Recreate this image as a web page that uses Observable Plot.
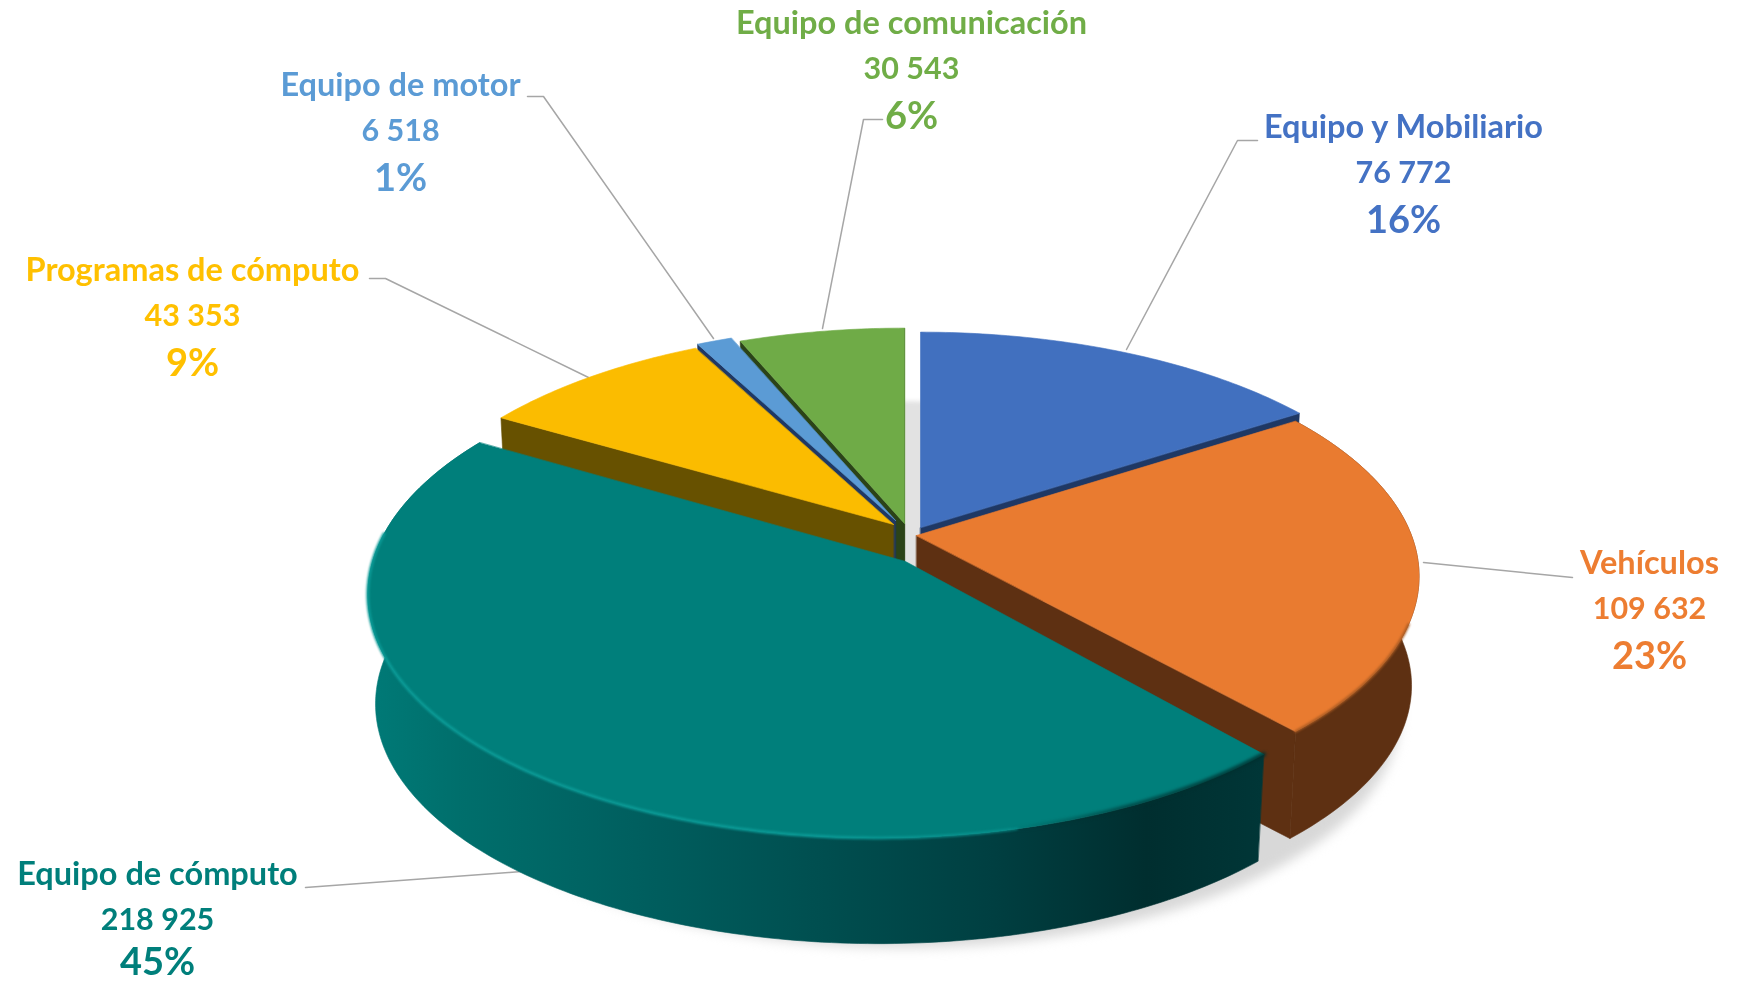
<!DOCTYPE html>
<html><head><meta charset="utf-8">
<style>html,body{margin:0;padding:0;background:#fff}svg{display:block}</style>
<script src="https://cdn.jsdelivr.net/npm/d3@7"></script>
<script src="https://cdn.jsdelivr.net/npm/@observablehq/plot@0.6"></script>
</head><body><div id="chart"></div>
<script>
const categories = ["Equipo y Mobiliario","Vehículos","Equipo de cómputo","Programas de cómputo","Equipo de motor","Equipo de comunicación"];
const values = [76772,109632,218925,43353,6518,30543];
const topColors = ["#4170BF","#E97B30","#007F7B","#FBBC00","#5B9BD5","#6FAB47"];
const cutColors = ["#1F3864","#5E3012","#003637","#675100","#1F3864","#2B4318"];
const labelColors = ["#4472C4","#ED7D31","#007F7B","#FFC000","#5B9BD5","#70AD47"];

// Geometry of the perspective projection
const R = 495, tilt = 0.463, persp = 0.173, depth = 110, shrink = 0.985;
const rimBase = [[920,527],[916,535],[878,552],[893,524],[895,520],[904,523]];
const apexBase = [[920,527],[916,535],[905,561],[893,524],[895,520],[904,523]];
const rimScale = [[1,1],[1,1],[1.016,1.03],[1,1],[1,1],[1,1]];
const labelPos = [[1403,127],[1649,563],[157,874],[192,270],[400,85],[911,23]];
const leaders = [
  [[1257,140],[1237,140],[1126,349]],
  [[1572,577],[1423,562]],
  [[305,887],[521,871]],
  [[369,278],[385,278],[588,377]],
  [[527,96],[543,96],[713,338]],
  [[882,119],[863,119],[822,328]]
];

const pie = d3.pie().sort(null).value(d => d)(values);
const fmt = v => d3.format(",")(v).replace(/,/g, " ");
const share = v => Math.round(100 * v / d3.sum(values)) + "%";

const project = (a, base, sc = [1, 1]) => {
  const X = Math.sin(a), Y = Math.cos(a), s = 1 / (1 + persp * Y);
  return [base[0] + sc[0] * R * X * s, base[1] - sc[1] * tilt * R * Y * s];
};
const drop = (p, base) => [base[0] + (p[0] - base[0]) * shrink, base[1] + (p[1] - base[1]) * shrink + depth];
const arc = (a0, a1, base, sc) => {
  const n = Math.max(2, Math.ceil(Math.abs(a1 - a0) / 0.015));
  return d3.range(n + 1).map(i => project(a0 + (a1 - a0) * i / n, base, sc));
};
const topFace = i => [apexBase[i], ...arc(pie[i].startAngle, pie[i].endAngle, rimBase[i], rimScale[i])];
const sideFace = i => {
  const a = arc(pie[i].startAngle, pie[i].endAngle, rimBase[i], rimScale[i]);
  return [...a, ...a.map(p => drop(p, rimBase[i])).reverse()];
};
const cutFace = (i, angle) => {
  const p = project(angle, rimBase[i], rimScale[i]), q = apexBase[i];
  return [q, p, drop(p, rimBase[i]), [q[0], q[1] + depth]];
};
const poly = (pts, fill, extra = {}) => Plot.line(pts, {x: d => d[0], y: d => d[1], curve: "linear-closed",
  fill, stroke: fill, strokeWidth: 0.6, ...extra});
const rimLine = (a0, a1, i, stroke, w, blur) => Plot.line(arc(a0, a1, rimBase[i], rimScale[i]), {x: d => d[0], y: d => d[1],
  stroke, strokeWidth: w, imageFilter: `blur(${blur}px)`});

const defs = () => {
  const d = d3.create("svg:defs");
  const grad = (id, x1, x2, stops) => {
    const g = d.append("linearGradient").attr("id", id).attr("gradientUnits", "userSpaceOnUse")
      .attr("x1", x1).attr("x2", x2).attr("y1", 0).attr("y2", 0);
    stops.forEach(([o, c, op]) => g.append("stop").attr("offset", o).attr("stop-color", c).attr("stop-opacity", op ?? 1));
  };
  grad("tealSide", 367, 1262, [[0,"#007A77"],[.1,"#006F6C"],[.3,"#005F5F"],[.5,"#004F50"],[.7,"#003F41"],[.87,"#002E2F"],[1,"#003637"]]);
  grad("tealGlow", 367, 1262, [[0,"#0A9A96"],[.5,"#0A9A96"],[.72,"#0A9A96",.6],[.85,"#0A9A96",0]]);
  grad("tealDark", 367, 1262, [[0,"#00302F",0],[.72,"#00302F",0],[.85,"#00302F",.6],[1,"#00302F",.8]]);
  return d.node();
};

const order = [0, 1, 5, 4, 3, 2];
const marks = [defs];
// Soft shadows under the pie: on the floor, and behind the gap between the slices
const floor = [900, 548], gapShadow = [900, 596];
marks.push(Plot.line(
  arc(0, 2 * Math.PI, floor).map(p => drop(p, floor)).map(p => [p[0] + 4, p[1] + 16]),
  {x: d => d[0], y: d => d[1], curve: "linear-closed", fill: "#D8D8D8", imageFilter: "blur(6px)"}));
marks.push(Plot.line(
  arc(0, 2 * Math.PI, gapShadow, [.85, 1]),
  {x: d => d[0], y: d => d[1], curve: "linear-closed", fill: "#E2E2E2", imageFilter: "blur(2px)"}));
// Leader lines
leaders.forEach(l => marks.push(Plot.line(l, {x: d => d[0], y: d => d[1], stroke: "#A6A6A6", strokeWidth: 1.5})));
// Slices, back to front
order.forEach(i => {
  const {startAngle: s, endAngle: e} = pie[i];
  const side = i === 2 ? "url(#tealSide)" : cutColors[i];
  if (i === 1) marks.push(poly(cutFace(i, e), cutColors[i]));
  if (i === 0) marks.push(poly(cutFace(i, e), cutColors[i]));
  if (i >= 3) marks.push(poly(cutFace(i, s), cutColors[i]));
  if (i === 5) marks.push(poly(cutFace(i, e), cutColors[i]));
  if (i === 1 || i === 2) marks.push(poly(sideFace(i), side));
  marks.push(poly(topFace(i), topColors[i]));
  if (i === 1) marks.push(rimLine(s + 0.95, e, 1, "#A85A22", 2.5, 1));
  if (i === 2) {
    marks.push(rimLine(s + 0.5, e - 0.45, 2, "url(#tealGlow)", 3, 1));
    marks.push(rimLine(s, s + 1.6, 2, "url(#tealDark)", 5, 1.5));
  }
});
// Labels
const rows = categories.map((c, i) => ({c, i}));
const sizes = [32.5, 30.5, 38], gaps = [0, 46, 93], weights = ["bold", "bold", "bold"], lowest = 962;
[d => categories[d.i], d => fmt(values[d.i]), d => share(values[d.i])].forEach((text, k) => {
  marks.push(Plot.text(rows, {
    x: d => labelPos[d.i][0], y: d => Math.min(lowest, labelPos[d.i][1] + gaps[k]), text,
    fill: d => labelColors[d.i], fontSize: sizes[k], fontWeight: weights[k],
    fontFamily: "Lato, sans-serif", stroke: null
  }));
});

const chart = Plot.plot({
  width: 1739, height: 982, margin: 0,
  x: {domain: [0, 1739], range: [0, 1739], axis: null},
  y: {domain: [0, 982], range: [0, 982], axis: null},
  color: {type: "identity"},
  style: {background: "#fff", filter: "blur(0.5px)"},
  marks
});
document.getElementById("chart").append(chart);
</script></body></html>
